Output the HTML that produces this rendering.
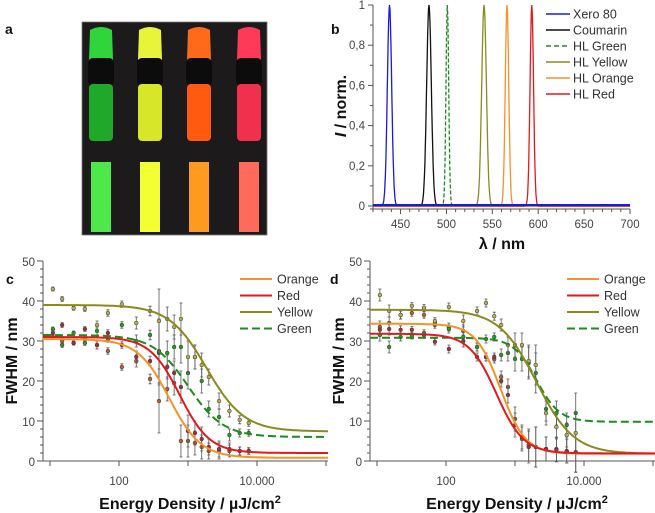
<!DOCTYPE html>
<html><head><meta charset="utf-8"><style>
body{margin:0;background:#fff;}
svg{display:block;font-family:"Liberation Sans","DejaVu Sans",sans-serif;}
.tk{font-size:11.5px;fill:#444;}
.lg{font-size:12.5px;fill:#333;}
.ax{font-weight:bold;fill:#111;}
</style></head><body>
<svg id="fig" width="655" height="513" viewBox="0 0 655 513">
<g id="photo">
<rect x="82" y="22" width="185" height="213" fill="#1c1a1b" stroke="#777" stroke-width="0.8"/>
</g>
<text x="5" y="34" class="ax" font-size="14">a</text>
<text x="331" y="34" class="ax" font-size="14">b</text>
<text x="6" y="284" class="ax" font-size="14">c</text>
<text x="330" y="284" class="ax" font-size="14">d</text>
<g id="pb"></g>
<g id="pc"></g>
<g id="pd"></g>
</svg>
<script>
// ---- Panel b data
const specNames=["Xero 80","Coumarin","HL Green","HL Yellow","HL Orange","HL Red"];
const specCenters=[438,481,501,541,566,593];
const specWidths=[5.5,6,3.5,6,4.5,4.5];
const specColors=["#1a1ad8","#111111","#1f8a1f","#8a8a20","#f5922a","#e31a1c"];
const bXTicks=[450,500,550,600,650,700];
const bYTicks=[0,0.2,0.4,0.6,0.8,1];
const bYLabels=["0","0,2","0,4","0,6","0,8","1"];
// ---- Panels c/d data
const energies=[11,15,22,32,48,69,110,178,282,380,500,630,790,1000,1260,1580,2000,2820,3980,5620,7590];
const cOrange=[31,30,29.5,30.5,29,27.5,23.5,25,20.5,15,18,19.5,5,5,4.5,3.5,2.5,2.5,2.5,2.5,2.5];
const cRed=[32,34,29.5,33,29,32,29,26,25,27,23.5,22,18.5,7.5,7,5.5,3.5,3,3,2.5,2.5];
const cYellow=[43,40.5,38.2,38,34,37,39.2,34.5,37.5,35,35.5,33.5,35.5,26,26,24,21,15,12.5,10.3,9.5];
const cGreen=[33,29,32,29.5,32.5,30.5,34,30,31.5,27.5,27,28.5,28.5,22,26,20,13,11,6.5,7,7];
const cErr=[0.5,0.6,0.5,0.6,1,0.8,0.8,1.5,1.2,8,3,3,4,4,3,3,2,2,1.5,1,0.8];
const dOrange=[33.5,34.5,36.5,37,36.5,34,33.5,32.5,28.5,26,25.5,21,18.5,10.5,5.5,4,3.5,3,3,2.5,2.2];
const dRed=[32.8,33,32.8,32.8,31.5,29.8,28,30,26,26,26,20,16.5,9,6,3.5,3.5,3,2.8,2.5,2.2];
const dYellow=[41.5,37.5,36.5,38.8,38.3,35,38.5,35,37.5,39.5,36.2,34,29,29,29,25,24,12,8.5,6.5,7];
const dGreen=[31.5,28.5,31,31.3,32,34.5,33,31,28.5,30.5,31,26.5,27,25.5,25.5,24.5,22,13,12,9,12];
const dErr=[1.5,1.5,1,0.8,0.8,0.8,1,1.5,1,1,1,1.5,2,3,3,4,5,3,3,3,5];
// fit params [A1,A2,log10 x0,k]
const fitC={Orange:[30.5,0.8,2.73,1.9],Red:[31,2,2.88,2.0],Yellow:[39,7.4,3.27,1.6],Green:[31.5,6,3.0,1.7]};
const fitD={Orange:[34.3,1.8,2.79,2.4],Red:[31.8,1.9,2.73,2.2],Yellow:[37.8,1.8,3.31,1.6],Green:[30.8,9.8,3.31,2.6]};
const serNames=["Orange","Red","Yellow","Green"];
const serColors={Orange:"#f5922a",Red:"#e31a1c",Yellow:"#8a8a20",Green:"#1f8a1f"};
const markFill={Orange:"#c0602a",Red:"#a03040",Yellow:"#b8b050",Green:"#22a022"};

const NS="http://www.w3.org/2000/svg";
function mk(parent,tag,attrs,text){const e=document.createElementNS(NS,tag);for(const k in attrs)e.setAttribute(k,attrs[k]);if(text!==undefined)e.textContent=text;parent.appendChild(e);return e;}

// ---- Photo (decorative)
(function(){
 const g=document.getElementById('photo');
 const cols=[["#2fd53a","#1fa82a","#4ee84a"],["#e8f43a","#d8e62a","#f2ff30"],["#ff6a1a","#ff5a10","#ff9a20"],["#ff3a58","#f0304c","#ff6a5a"]];
 const xs=[88,137,186,236];
 for(let i=0;i<4;i++){const x=xs[i],c=cols[i];
  const m=mk(g,'g',{});
  
  
  mk(m,'path',{d:`M${x+2} ${30} Q${x+13} ${24} ${x+24} ${30} L${x+25} ${60} L${x+1} ${60}Z`,fill:c[0]});
  mk(m,'rect',{x:x,y:58,width:26,height:28,rx:5,fill:"#0c0c0c"});
  mk(m,'rect',{x:x+1,y:84,width:24,height:57,rx:4,fill:c[1]});
  mk(m,'rect',{x:x+3,y:162,width:20,height:70,fill:c[2]});
 }
})();

// ---- Panel b
(function(){
 const g=document.getElementById('pb');
 const x0=373,x1=630,y0=206,y1=5;
 const X=v=>x0+(v-420)/(700-420)*(x1-x0);
 const Y=v=>y0-(v)*(y0-y1);
 mk(g,'line',{x1:x0,y1:y1,x2:x0,y2:y0+3,stroke:"#555"});
 mk(g,'line',{x1:x0-3,y1:y0+3,x2:x1,y2:y0+3,stroke:"#555"});
 for(let v=420;v<=700;v+=10){mk(g,'line',{x1:X(v),y1:y0+3,x2:X(v),y2:y0+(v%50==0?8:6),stroke:"#555"});}
 bXTicks.forEach(v=>{const t=mk(g,'text',{x:X(v),y:y0+22,'text-anchor':'middle',class:'tk'},String(v));});
 bYTicks.forEach((v,i)=>{mk(g,'line',{x1:x0-5,y1:Y(v),x2:x0,y2:Y(v),stroke:"#555"});
  const t=mk(g,'text',{x:x0-8,y:Y(v)+4,'text-anchor':'end',class:'tk'},bYLabels[i]);});
 for(let v=0.1;v<1;v+=0.2)mk(g,'line',{x1:x0-3,y1:Y(v),x2:x0,y2:Y(v),stroke:"#555"});
 const yt=mk(g,'text',{x:0,y:0,transform:`translate(346,106) rotate(-90)`,'text-anchor':'middle',class:'ax','font-size':'16'});
 yt.innerHTML='<tspan font-style="italic">I</tspan> / norm.';
 
 const xt=mk(g,'text',{x:502,y:249,'text-anchor':'middle',class:'ax','font-size':'16'},'λ / nm');
 
 specNames.forEach((n,i)=>{
  let d='';
  for(let v=420;v<=700;v+=0.5){const y=Math.exp(-Math.pow(v-specCenters[i],2)/(2*Math.pow(specWidths[i]/2.355,2)));d+=(d?'L':'M')+X(v).toFixed(1)+' '+Y(y).toFixed(1);}
  const p=mk(g,'path',{d:d,fill:'none',stroke:specColors[i],'stroke-width':1.3,'stroke-dasharray':n=="HL Green"?"4 2":"none"});
  
  const ly=14+i*16;
  const l=mk(g,'line',{x1:546,y1:ly,x2:570,y2:ly,stroke:specColors[i],'stroke-width':1.5,'stroke-dasharray':n=="HL Green"?"5 3":"none"});
  
  const t=mk(g,'text',{x:573,y:ly+4.5,class:'lg'},n);
  
 });
 mk(g,'line',{x1:x0,y1:Y(0.005),x2:x1,y2:Y(0.005),stroke:"#1a1ad8",'stroke-width':2});
})();

// ---- Panels c/d
function fwhm(gid,ox,ser,err,fit){
 const g=document.getElementById(gid);
 const x0=ox+43,x1=ox+328,y0=461,y1=261;
 const X=e=>ox+50+(Math.log10(e)-1)*69;
 const Y=v=>y0-v*4;
 mk(g,'line',{x1:x0,y1:y1,x2:x0,y2:y0,stroke:"#555"});
 mk(g,'line',{x1:x0,y1:y0,x2:x1,y2:y0,stroke:"#555"});
 for(let v=0;v<=50;v+=2){const maj=v%10==0;mk(g,'line',{x1:x0-(maj?6:3),y1:Y(v),x2:x0,y2:Y(v),stroke:"#555"});
  if(maj){const t=mk(g,'text',{x:x0-8,y:Y(v)+5,'text-anchor':'end',class:'tk','font-size':'13'},String(v));}}
 [10,100,1000,10000,100000].forEach(e=>{const x=X(e);if(x<=x1+1)mk(g,'line',{x1:x,y1:y0,x2:x,y2:y0+5,stroke:"#555"});});
 [[100,'100'],[10000,'10.000']].forEach(a=>{const t=mk(g,'text',{x:X(a[0]),y:485,'text-anchor':'middle',class:'tk','font-size':'13'},a[1]);});
 const yt=mk(g,'text',{x:0,y:0,transform:`translate(${ox+17},361) rotate(-90)`,'text-anchor':'middle',class:'ax','font-size':'16'},'FWHM / nm');
 
 const xt=mk(g,'text',{x:ox+190,y:509,'text-anchor':'middle',class:'ax','font-size':'16'});
 xt.innerHTML='Energy Density / µJ/cm<tspan dy="-6" font-size="11">2</tspan>';
 
 ["Orange","Red","Green","Yellow"].forEach(n=>{
  ser[n].forEach((v,i)=>{const x=X(energies[i]),y=Y(v),e=err[i]*4;
   mk(g,'path',{d:`M${x} ${y-e}V${y+e}M${x-1.5} ${y-e}h3M${x-1.5} ${y+e}h3`,stroke:"#555",'stroke-width':0.8});
   const c=mk(g,'circle',{cx:x,cy:y,r:1.9,fill:markFill[n],stroke:"#333",'stroke-width':0.5});
   
  });
 });
 ["Green","Yellow","Orange","Red"].forEach(n=>{
  const [A1,A2,l0,k]=fit[n];let d='';
  for(let x=x0;x<=x1;x+=1){const l=1+(x-ox-50)/69;const v=A2+(A1-A2)/(1+Math.pow(10,k*(l-l0)));d+=(d?'L':'M')+x+' '+Y(v).toFixed(1);}
  const p=mk(g,'path',{d:d,fill:'none',stroke:serColors[n],'stroke-width':2,'stroke-dasharray':n=="Green"?"8 4":"none"});
  
 });
 serNames.forEach((n,i)=>{const ly=279+i*16.5;
  const l=mk(g,'line',{x1:ox+240,y1:ly,x2:ox+272,y2:ly,stroke:serColors[n],'stroke-width':2,'stroke-dasharray':n=="Green"?"8 4":"none"});
  
  const t=mk(g,'text',{x:ox+277,y:ly+4.5,class:'lg','font-size':'12.5'},n);
  
 });
}
fwhm('pc',0,{Orange:cOrange,Red:cRed,Yellow:cYellow,Green:cGreen},cErr,fitC);
fwhm('pd',327,{Orange:dOrange,Red:dRed,Yellow:dYellow,Green:dGreen},dErr,fitD);
</script>
</body></html>
